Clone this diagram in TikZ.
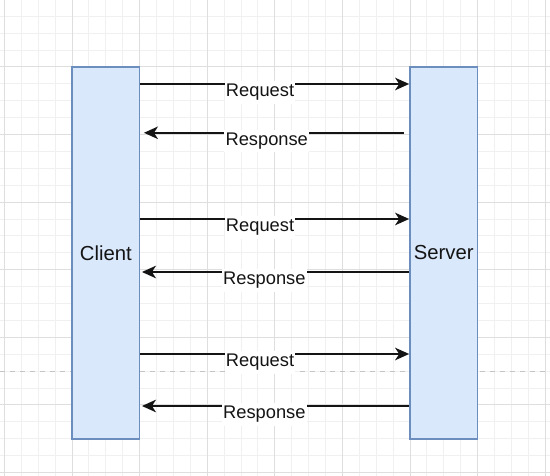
\documentclass[tikz,border=0pt]{standalone}
\usepackage{fontspec}
\setmainfont{Liberation Sans}
\usetikzlibrary{arrows.meta}
\definecolor{boxfill}{HTML}{DAE8FC}
\definecolor{boxline}{HTML}{6C8EBF}
\definecolor{minorgrid}{HTML}{F0F0F0}
\definecolor{majorgrid}{HTML}{DEDEDE}
\definecolor{pagebreak}{HTML}{C4C4C4}
\definecolor{ink}{HTML}{141414}
\tikzset{
  minorline/.style={draw=minorgrid, line width=1pt},
  majorline/.style={draw=majorgrid, line width=1pt},
  lifebox/.style={draw=boxline, fill=boxfill, line width=1.7pt, minimum width=67.6pt, minimum height=372pt, inner sep=0pt, text=ink, font=\fontsize{20.3}{24}\selectfont},
  msg/.style={draw=ink, line width=1.7pt, -{Stealth[length=14pt, width=12.5pt, inset=4pt]}},
  msglabel/.style={fill=white, inner xsep=1.2pt, inner ysep=3pt, anchor=base, yshift=-12.8pt, text=ink, font=\fontsize{18.3}{22}\selectfont}
}
\begin{document}
\begin{tikzpicture}[x=1pt, y=-1pt]
\useasboundingbox (0,0) rectangle (550,476);
\fill[white] (0,0) rectangle (550,476);
% grid
\begin{scope}
\clip (0,0) rectangle (550,476);
\foreach \i in {0,...,33} {
  \draw[minorline] ({4.4+16.9*\i},0) -- ({4.4+16.9*\i},476);
}
\foreach \i in {0,...,29} {
  \draw[minorline] (0,{-0.6+16.9*\i}) -- (550,{-0.6+16.9*\i});
}
\foreach \i in {0,...,8} {
  \draw[majorline] ({4.4+67.6*\i},0) -- ({4.4+67.6*\i},476);
}
\foreach \i in {0,...,7} {
  \draw[majorline] (0,{-0.6+67.6*\i}) -- (550,{-0.6+67.6*\i});
}
\end{scope}
% page break line
\coordinate (pbl) at (0,371.7);
\coordinate (pbr) at (550,371.7);
\draw[pagebreak, line width=1pt, dash pattern=on 5pt off 5pt] (pbl) -- (pbr);
% lifelines
\node[lifebox] (client) at (105.8,253) {Client};
\node[lifebox] (server) at (443.8,253) {Server};
% messages
\draw[msg] (client.east |- 0,84) -- node[msglabel, pos=0.445] {Request} (server.west |- 0,84);
\draw[msg, shorten <=5pt, shorten >=3.5pt] (server.west |- 0,132.8) -- node[msglabel, pos=0.53] {Response} (client.east |- 0,132.8);
\draw[msg] (client.east |- 0,219) -- node[msglabel, pos=0.445] {Request} (server.west |- 0,219);
\draw[msg, shorten >=1.5pt] (server.west |- 0,272) -- node[msglabel, pos=0.539] {Response} (client.east |- 0,272);
\draw[msg] (client.east |- 0,354) -- node[msglabel, pos=0.445] {Request} (server.west |- 0,354);
\draw[msg, shorten >=1.5pt] (server.west |- 0,406) -- node[msglabel, pos=0.539] {Response} (client.east |- 0,406);
\end{tikzpicture}
\end{document}
